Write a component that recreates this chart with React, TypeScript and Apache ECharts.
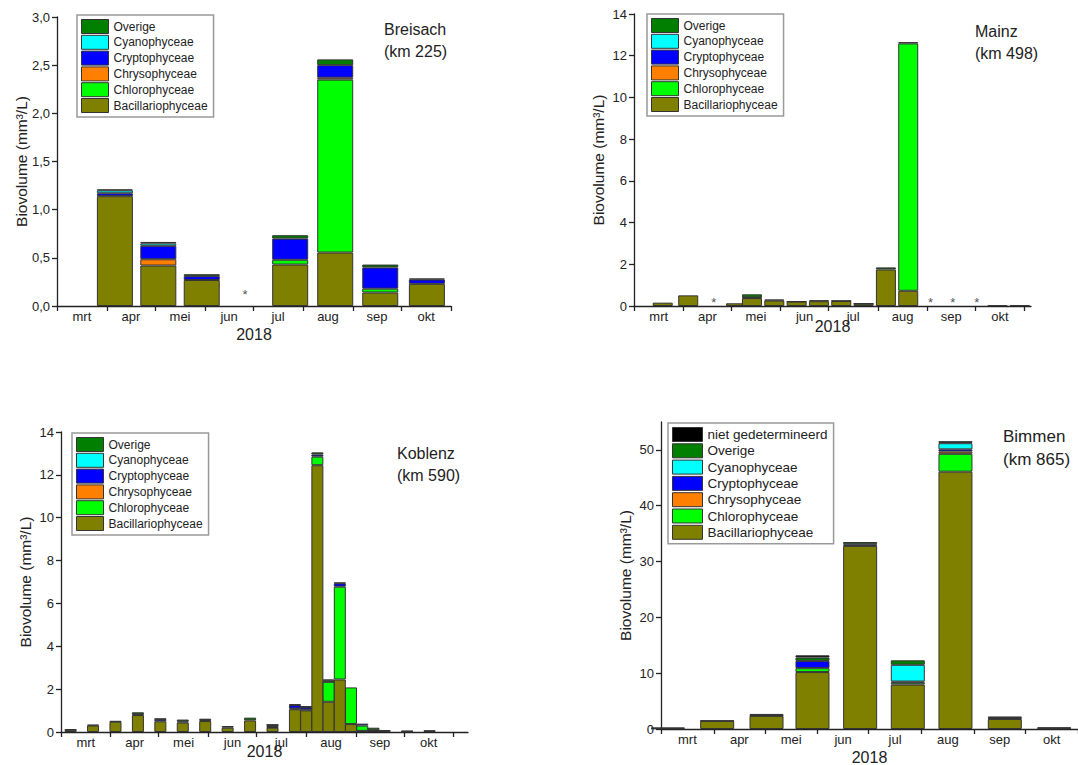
import { useEffect, useRef } from "react";
import * as echarts from "echarts";

// ---------- shared ----------
const MONTHS = ["mrt", "apr", "mei", "jun", "jul", "aug", "sep", "okt"];
const CLASSES = [
  "Bacillariophyceae",
  "Chlorophyceae",
  "Chrysophyceae",
  "Cryptophyceae",
  "Cyanophyceae",
  "Overige",
  "niet gedetermineerd",
];
const CLASS_COLORS = ["#808000", "#00ff00", "#ff8000", "#0000ff", "#00ffff", "#007f00", "#000000"];

// ---------- Breisach (km 225) ----------
const breisachDates = ["2018-04-06", "2018-05-03", "2018-05-30", "2018-07-24", "2018-08-21", "2018-09-18", "2018-10-17"];
const breisachBacillariophyceae = [1.14, 0.42, 0.27, 0.43, 0.555, 0.14, 0.23];
const breisachChlorophyceae = [0, 0, 0, 0.05, 1.795, 0.04, 0];
const breisachChrysophyceae = [0, 0.065, 0, 0, 0.02, 0, 0];
const breisachCryptophyceae = [0.03, 0.14, 0.04, 0.22, 0.13, 0.22, 0.045];
const breisachCyanophyceae = [0.03, 0.025, 0, 0, 0, 0, 0];
const breisachOverige = [0.01, 0.015, 0.02, 0.035, 0.06, 0.03, 0.01];
const breisachMissing = ["2018-06-26"];

// ---------- Mainz (km 498) ----------
const mainzDates = [
  "2018-03-19", "2018-04-04", "2018-05-04", "2018-05-14", "2018-05-28", "2018-06-11", "2018-06-25",
  "2018-07-09", "2018-07-23", "2018-08-06", "2018-08-20", "2018-10-15", "2018-10-29",
];
const mainzBacillariophyceae = [0.16, 0.51, 0.13, 0.38, 0.26, 0.21, 0.23, 0.24, 0.11, 1.75, 0.73, 0.03, 0.03];
const mainzChlorophyceae = [0, 0, 0, 0.03, 0, 0, 0, 0, 0, 0, 11.86, 0, 0];
const mainzOverige = [0, 0, 0, 0.15, 0.05, 0.01, 0.04, 0.01, 0.01, 0.1, 0.06, 0, 0];
const mainzMissing = ["2018-04-20", "2018-09-03", "2018-09-17", "2018-10-02"];

// ---------- Koblenz (km 590) ----------
const koblenzDates = [
  "2018-03-07", "2018-03-21", "2018-04-04", "2018-04-18", "2018-05-02", "2018-05-16", "2018-05-30",
  "2018-06-13", "2018-06-27", "2018-07-11", "2018-07-25", "2018-08-01", "2018-08-08", "2018-08-15",
  "2018-08-22", "2018-08-29", "2018-09-05", "2018-09-12", "2018-09-19", "2018-10-03", "2018-10-17",
];
const koblenzBacillariophyceae = [
  0.1, 0.3, 0.48, 0.79, 0.5, 0.44, 0.51, 0.2, 0.54, 0.2, 1.06, 1.01, 12.45, 1.41, 2.45, 0.37, 0.05, 0.05, 0.05, 0.03,
  0.04,
];
const koblenzChlorophyceae = [
  0, 0, 0, 0, 0, 0.06, 0.04, 0, 0, 0.03, 0.04, 0.04, 0.4, 0.93, 4.33, 1.71, 0.25, 0.03, 0, 0, 0,
];
const koblenzCryptophyceae = [
  0, 0, 0, 0.03, 0.1, 0, 0, 0, 0, 0.1, 0.16, 0.12, 0.1, 0.06, 0.16, 0, 0.09, 0, 0, 0, 0,
];
const koblenzOverige = [
  0.02, 0.04, 0.03, 0.1, 0.02, 0.08, 0.07, 0.08, 0.13, 0.01, 0.03, 0.04, 0.1, 0.05, 0.03, 0, 0, 0.12, 0.04, 0.02,
  0.03,
];

// ---------- Bimmen (km 865) ----------
const bimmenDates = [
  "2018-03-05", "2018-04-03", "2018-05-02", "2018-05-29", "2018-06-26", "2018-07-24", "2018-08-21", "2018-09-19",
  "2018-10-18",
];
const bimmenBacillariophyceae = [0.1, 1.45, 2.35, 10.2, 32.8, 7.95, 46.1, 1.8, 0.1];
const bimmenChlorophyceae = [0, 0, 0, 0.7, 0, 0.35, 3.2, 0, 0];
const bimmenChrysophyceae = [0, 0, 0, 0, 0, 0, 0.4, 0, 0];
const bimmenCryptophyceae = [0, 0, 0, 1.3, 0.3, 0.2, 0.4, 0, 0];
const bimmenCyanophyceae = [0, 0, 0, 0, 0, 3.0, 1.1, 0, 0];
const bimmenOverige = [0, 0, 0.1, 0.6, 0.4, 0.8, 0.2, 0.15, 0];
const bimmenNietGedetermineerd = [0.15, 0.05, 0.25, 0.4, 0, 0, 0.1, 0.3, 0.2];

const LEGEND6 = ["Overige", "Cyanophyceae", "Cryptophyceae", "Chrysophyceae", "Chlorophyceae", "Bacillariophyceae"];
const LEGEND7 = ["niet gedetermineerd", ...LEGEND6];

// local-time timestamps
const ts = (s: string) => {
  const [y, m, d] = s.split("-").map(Number);
  return new Date(y, m - 1, d).getTime();
};
const MONTH_STARTS = Array.from({ length: 9 }, (_, k) => new Date(2018, 2 + k, 1).getTime());
const MONTH_MIDS = MONTH_STARTS.slice(0, 8).map((t, k) => (t + MONTH_STARTS[k + 1]) / 2);

const PANELS: any[] = [
  {
    title: "Breisach\n(km 225)",
    dates: breisachDates,
    values: {
      Bacillariophyceae: breisachBacillariophyceae,
      Chlorophyceae: breisachChlorophyceae,
      Chrysophyceae: breisachChrysophyceae,
      Cryptophyceae: breisachCryptophyceae,
      Cyanophyceae: breisachCyanophyceae,
      Overige: breisachOverige,
    },
    missing: breisachMissing,
    legend: LEGEND6,
    yMax: 3,
    yInterval: 0.5,
    yFormat: (v: number) => v.toFixed(1).replace(".", ","),
    grid: { left: 57, top: 17, width: 394, height: 289 },
    xMax: "2018-11-01",
    barWidth: 36,
    legendPos: { left: 77, top: 15 },
    titlePos: { left: 384, top: 18 },
    titleSize: 16,
    legendFont: 12,
    legendItemW: 27,
    legendGap: 0.8,
    xNameGap: 20,
    starDist: 5,
  },
  {
    title: "Mainz\n(km 498)",
    dates: mainzDates,
    values: {
      Bacillariophyceae: mainzBacillariophyceae,
      Chlorophyceae: mainzChlorophyceae,
      Overige: mainzOverige,
    },
    missing: mainzMissing,
    legend: LEGEND6,
    yMax: 14,
    yInterval: 2,
    grid: { left: 634, top: 14, width: 397, height: 292 },
    xMax: "2018-11-05",
    barWidth: 20,
    legendPos: { left: 647, top: 14 },
    titlePos: { left: 975, top: 20 },
    titleSize: 16,
    legendFont: 12,
    legendItemW: 27,
    legendGap: 0.8,
    xNameGap: 12,
    starDist: -3,
  },
  {
    title: "Koblenz\n(km 590)",
    dates: koblenzDates,
    values: {
      Bacillariophyceae: koblenzBacillariophyceae,
      Chlorophyceae: koblenzChlorophyceae,
      Cryptophyceae: koblenzCryptophyceae,
      Overige: koblenzOverige,
    },
    missing: [],
    legend: LEGEND6,
    yMax: 14,
    yInterval: 2,
    grid: { left: 61, top: 432, width: 407, height: 300 },
    xMax: "2018-11-10",
    barWidth: 12,
    legendPos: { left: 72, top: 433 },
    titlePos: { left: 397, top: 442 },
    titleSize: 16,
    legendFont: 12,
    legendItemW: 27,
    legendGap: 0.8,
    xNameGap: 11,
    starDist: 5,
  },
  {
    title: "Bimmen\n(km 865)",
    dates: bimmenDates,
    values: {
      Bacillariophyceae: bimmenBacillariophyceae,
      Chlorophyceae: bimmenChlorophyceae,
      Chrysophyceae: bimmenChrysophyceae,
      Cryptophyceae: bimmenCryptophyceae,
      Cyanophyceae: bimmenCyanophyceae,
      Overige: bimmenOverige,
      "niet gedetermineerd": bimmenNietGedetermineerd,
    },
    missing: [],
    legend: LEGEND7,
    yMax: 55,
    yCustom: [0, 10, 20, 30, 40, 50],
    grid: { left: 661, top: 422, width: 417, height: 307 },
    xMax: "2018-11-01",
    barWidth: 34,
    legendPos: { left: 668, top: 423 },
    titlePos: { left: 1003, top: 425 },
    titleSize: 17,
    legendFont: 13.5,
    legendItemW: 30,
    legendGap: 1.3,
    xNameGap: 20,
    starDist: 5,
  },
];

const FONT = "'Liberation Sans', Arial, sans-serif";
const INK = "#222";

function buildOption() {
  const grid: any[] = [];
  const xAxis: any[] = [];
  const yAxis: any[] = [];
  const legend: any[] = [];
  const title: any[] = [];
  const series: any[] = [];

  PANELS.forEach((p, i) => {
    grid.push({ ...p.grid, containLabel: false, outerBoundsMode: "none" });
    xAxis.push({
      type: "value",
      gridIndex: i,
      min: ts("2018-03-01"),
      max: ts(p.xMax),
      axisLine: { show: true, onZero: false, lineStyle: { color: INK, width: 1.3 } },
      axisTick: { show: true, length: 5, customValues: MONTH_STARTS, lineStyle: { color: INK, width: 1.3 } },
      axisLabel: {
        customValues: MONTH_MIDS,
        formatter: (v: number) => MONTHS[new Date(v).getMonth() - 2] ?? "",
        fontSize: 13,
        color: INK,
        margin: 4,
        fontFamily: FONT,
      },
      splitLine: { show: false },
      name: "2018",
      nameLocation: "middle",
      nameGap: p.xNameGap,
      nameMoveOverlap: false,
      nameTextStyle: { fontSize: 16, color: INK, fontFamily: FONT },
    });
    const yLabel: any = { fontSize: 13, color: INK, margin: 7, fontFamily: FONT };
    if (p.yFormat) yLabel.formatter = p.yFormat;
    if (p.yCustom) yLabel.customValues = p.yCustom;
    const yTick: any = { show: true, length: 5, lineStyle: { color: INK, width: 1.3 } };
    if (p.yCustom) yTick.customValues = p.yCustom;
    yAxis.push({
      type: "value",
      gridIndex: i,
      min: 0,
      max: p.yMax,
      ...(p.yInterval ? { interval: p.yInterval } : {}),
      axisLine: { show: true, lineStyle: { color: INK, width: 1.3 } },
      axisTick: yTick,
      axisLabel: yLabel,
      splitLine: { show: false },
      name: "Biovolume (mm³/L)",
      nameLocation: "middle",
      nameGap: 28,
      nameMoveOverlap: false,
      nameTextStyle: { fontSize: 15.5, color: INK, fontFamily: FONT },
    });
    legend.push({
      orient: "vertical",
      ...p.legendPos,
      data: p.legend,
      icon: "rect",
      itemWidth: p.legendItemW,
      itemHeight: 14,
      itemGap: p.legendGap,
      selectedMode: false,
      borderColor: "#999",
      borderWidth: 1.5,
      padding: [4, 6, 4, 4],
      backgroundColor: "#fff",
      itemStyle: { borderColor: "#333", borderWidth: 1 },
      textStyle: { fontSize: p.legendFont, color: INK, fontFamily: FONT, lineHeight: 14 },
    });
    title.push({
      text: p.title,
      ...p.titlePos,
      padding: 0,
      textStyle: {
        fontSize: p.titleSize,
        fontWeight: "normal",
        color: INK,
        lineHeight: p.titleSize + 6,
        fontFamily: FONT,
      },
    });
    CLASSES.forEach((cls, ci) => {
      const vals: number[] | undefined = p.values[cls];
      if (!vals) return;
      series.push({
        type: "bar",
        name: cls,
        xAxisIndex: i,
        yAxisIndex: i,
        stack: "panel" + i,
        barWidth: p.barWidth,
        // value first, so that the value column is the stacked one
        encode: { x: 1, y: 0 },
        itemStyle: { color: CLASS_COLORS[ci], borderColor: "#333", borderWidth: 1 },
        emphasis: { disabled: true },
        data: p.dates.map((d: string, k: number) => [vals[k] > 0 ? vals[k] : "-", ts(d)]),
      });
    });
    if (p.missing.length) {
      series.push({
        type: "scatter",
        name: "geen data",
        xAxisIndex: i,
        yAxisIndex: i,
        symbolSize: 0,
        silent: true,
        label: {
          show: true,
          formatter: "*",
          position: "top",
          distance: p.starDist,
          fontSize: 13,
          color: INK,
          fontFamily: FONT,
        },
        data: p.missing.map((d: string) => [ts(d), 0]),
      });
    }
  });

  return {
    animation: false,
    backgroundColor: "#fff",
    textStyle: { fontFamily: FONT },
    grid,
    xAxis,
    yAxis,
    legend,
    title,
    series,
  };
}

export default function App() {
  const ref = useRef<HTMLDivElement>(null);
  useEffect(() => {
    document.body.style.margin = "0";
    const chart = echarts.init(ref.current!, null, { renderer: "svg" });
    chart.setOption(buildOption() as any);
    return () => chart.dispose();
  }, []);
  return <div ref={ref} style={{ width: 1078, height: 765 }} />;
}
